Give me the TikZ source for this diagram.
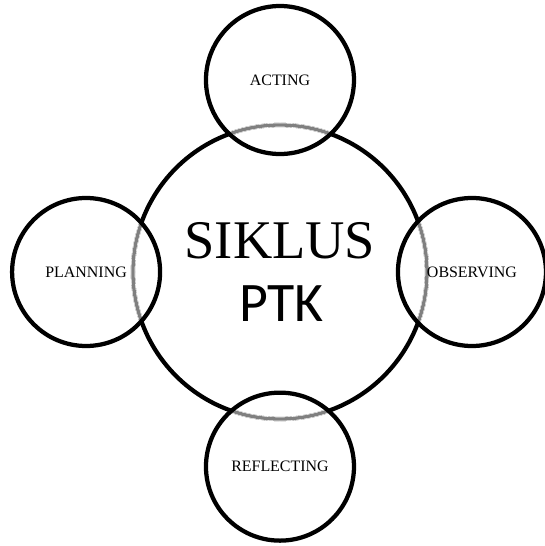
\documentclass[tikz,border=0pt]{standalone}
\usepackage{fontspec}
\setmainfont{Liberation Serif}
\newfontfamily\ptkfont{Carlito}

\begin{document}
\begin{tikzpicture}[
	stage/.style={circle, draw, line width=3.2pt, minimum size=3.916cm, inner sep=0pt, font=\fontsize{12}{14}\selectfont},
	rim/.style={line width=2.5pt, color=gray}]
	\useasboundingbox (-7.408,-7.250) rectangle (7.011,7.197);

	\node[circle, draw, line width=3.2pt, minimum size=7.779cm] (siklus) at (0,0) {};
	\node[anchor=base, font=\fontsize{41}{48}\selectfont] (judul) at (0,0.37) {SIKLUS};
	\node[anchor=base, font=\ptkfont\fontsize{42}{50}\selectfont] (ptk) at (0.04,-1.32) {PTK};

	% grey part of the big circle inside each stage
	\foreach \p in {(0,5.08), (-5.13,0), (5.08,0), (0,-5.15)} {
		\begin{scope}
			\clip \p circle (1.958);
			\draw[white, line width=3.4pt] (siklus.center) circle (3.8895);
			\draw[rim] (siklus.center) circle (3.8895);
		\end{scope}
	}

	\node[stage] (acting) at (0,5.08) {ACTING};
	\node[stage] (planning) at (-5.13,0) {PLANNING};
	\node[stage] (observing) at (5.08,0) {OBSERVING};
	\node[stage] (reflecting) at (0,-5.15) {REFLECTING};
\end{tikzpicture}
\end{document}
